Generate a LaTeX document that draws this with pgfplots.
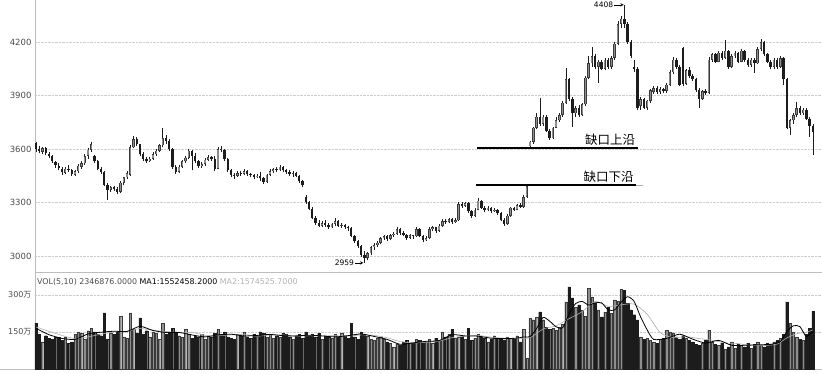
\documentclass[border=0pt]{standalone}
\usepackage{pgfplots}
\pgfplotsset{compat=1.18}
\usepackage{pgfplotstable}
\usepackage{fontspec}
\setmainfont{DejaVu Sans}
\newfontfamily\cjk{Noto Sans CJK SC}

\definecolor{upc}{HTML}{8E8E8E}
\definecolor{upe}{HTML}{3A3A3A}
\definecolor{dnc}{HTML}{1C1C1C}
\definecolor{gridc}{HTML}{CDCDCD}
\definecolor{axc}{HTML}{BDBDBD}
\definecolor{labc}{HTML}{4A4A4A}

\pgfplotstableread{
i o h l c v
0 3634 3640 3580 3600 186
1 3600 3615 3575 3590 140
2 3585 3610 3570 3605 110
3 3605 3610 3565 3575 135
4 3570 3585 3550 3560 125
5 3560 3568 3520 3530 120
6 3525 3535 3495 3510 130
7 3505 3520 3480 3495 128
8 3490 3500 3455 3470 115
9 3465 3500 3460 3490 130
10 3490 3510 3470 3480 105
11 3480 3490 3450 3460 110
12 3455 3480 3450 3475 140
13 3475 3515 3465 3505 150
14 3500 3530 3490 3520 145
15 3520 3570 3510 3560 120
16 3560 3605 3545 3595 155
17 3595 3640 3585 3625 165
18 3560 3565 3520 3535 150
19 3535 3540 3480 3490 140
20 3490 3500 3460 3470 135
21 3470 3475 3390 3400 227
22 3400 3410 3314 3370 120
23 3370 3390 3360 3385 145
24 3385 3390 3365 3375 140
25 3375 3385 3345 3360 150
26 3360 3420 3355 3410 213
27 3410 3445 3400 3440 130
28 3440 3475 3430 3465 125
29 3455 3620 3450 3610 227
30 3610 3670 3605 3655 160
31 3655 3665 3615 3630 145
32 3625 3630 3560 3570 207
33 3570 3580 3530 3545 140
34 3545 3555 3520 3530 155
35 3530 3555 3525 3545 130
36 3545 3580 3540 3570 150
37 3570 3600 3560 3590 145
38 3590 3630 3580 3620 120
39 3620 3718 3610 3660 185
40 3660 3680 3630 3645 140
41 3645 3655 3590 3600 150
42 3600 3605 3490 3500 165
43 3500 3510 3460 3470 150
44 3470 3510 3465 3500 135
45 3500 3540 3495 3530 130
46 3530 3560 3520 3550 160
47 3550 3600 3545 3590 140
48 3590 3595 3480 3560 125
49 3560 3575 3520 3530 135
50 3530 3540 3495 3505 130
51 3505 3525 3495 3515 140
52 3515 3550 3505 3540 120
53 3540 3565 3530 3555 135
54 3555 3560 3530 3545 130
55 3545 3560 3475 3490 145
56 3490 3610 3485 3600 160
57 3600 3615 3580 3595 140
58 3595 3600 3530 3545 150
59 3545 3550 3470 3480 130
60 3480 3490 3440 3455 125
61 3455 3465 3430 3450 120
62 3450 3475 3445 3465 140
63 3465 3475 3450 3460 135
64 3460 3490 3455 3475 150
65 3475 3480 3450 3460 130
66 3460 3465 3440 3455 125
67 3455 3460 3430 3440 140
68 3440 3460 3435 3450 135
69 3450 3470 3420 3435 150
70 3435 3440 3405 3415 145
71 3415 3460 3410 3455 130
72 3455 3485 3450 3475 140
73 3475 3495 3465 3485 125
74 3485 3500 3470 3480 135
75 3480 3510 3475 3500 130
76 3500 3505 3470 3480 145
77 3480 3490 3460 3470 140
78 3470 3480 3450 3460 130
79 3460 3475 3445 3465 120
80 3465 3470 3440 3450 135
81 3450 3455 3410 3420 140
82 3420 3425 3385 3395 125
83 3330 3340 3290 3300 150
84 3300 3310 3255 3265 135
85 3265 3275 3205 3215 140
86 3215 3225 3175 3185 130
87 3185 3200 3160 3170 145
88 3170 3195 3160 3185 120
89 3185 3200 3165 3175 135
90 3175 3185 3150 3160 130
91 3160 3185 3155 3180 125
92 3180 3210 3170 3195 140
93 3195 3200 3165 3170 130
94 3170 3185 3155 3175 145
95 3175 3180 3150 3160 135
96 3160 3170 3140 3155 125
97 3155 3160 3105 3110 186
98 3110 3120 3075 3085 130
99 3085 3090 3045 3055 120
100 3055 3060 2995 3005 150
101 3005 3025 2959 2990 140
102 2990 3020 2975 3015 135
103 3015 3055 3005 3050 120
104 3050 3070 3035 3060 115
105 3060 3085 3050 3075 125
106 3075 3105 3065 3100 130
107 3100 3120 3090 3110 120
108 3110 3120 3085 3095 110
109 3095 3125 3090 3115 105
110 3115 3135 3105 3125 90
111 3125 3160 3120 3150 100
112 3150 3155 3120 3130 95
113 3130 3140 3110 3120 110
114 3120 3125 3090 3100 115
115 3100 3125 3095 3115 105
116 3115 3120 3095 3110 105
117 3110 3162 3105 3150 120
118 3150 3155 3105 3110 115
119 3110 3115 3080 3090 110
120 3090 3110 3085 3100 110
121 3100 3160 3095 3150 120
122 3150 3170 3140 3160 105
123 3160 3165 3130 3140 125
124 3140 3180 3135 3170 115
125 3170 3205 3165 3195 150
126 3195 3205 3180 3190 130
127 3190 3215 3185 3205 140
128 3205 3210 3180 3190 160
129 3190 3210 3185 3200 125
130 3200 3300 3195 3290 130
131 3290 3300 3270 3280 135
132 3280 3305 3275 3295 120
133 3295 3300 3240 3250 165
134 3250 3260 3215 3225 115
135 3225 3270 3220 3260 125
136 3260 3325 3255 3310 140
137 3310 3315 3265 3270 130
138 3270 3280 3245 3255 125
139 3255 3280 3250 3270 110
140 3270 3275 3240 3250 120
141 3250 3270 3245 3260 135
142 3260 3265 3230 3240 125
143 3240 3245 3195 3200 120
144 3200 3210 3170 3180 115
145 3180 3235 3175 3225 130
146 3225 3275 3220 3270 125
147 3270 3275 3250 3260 120
148 3260 3290 3255 3285 135
149 3285 3295 3270 3275 110
150 3275 3340 3270 3330 160
151 3330 3395 3325 3390 45
152 3615 3645 3610 3640 205
153 3640 3725 3630 3720 200
154 3720 3800 3710 3780 210
155 3780 3885 3730 3740 231
156 3740 3790 3730 3780 200
157 3780 3790 3695 3700 170
158 3700 3710 3650 3660 160
159 3660 3725 3655 3720 165
160 3720 3780 3715 3760 158
161 3760 3800 3750 3790 170
162 3790 3870 3780 3860 180
163 3860 4054 3850 3990 272
164 3990 4000 3870 3880 333
165 3880 3890 3725 3800 288
166 3800 3840 3780 3830 251
167 3830 3845 3780 3790 260
168 3790 3860 3785 3850 239
169 3850 4010 3840 4000 215
170 4000 4120 3990 4080 328
171 4080 4172 4060 4120 292
172 4120 4130 4050 4060 267
173 4060 4100 3970 4090 240
174 4090 4100 4040 4050 211
175 4050 4110 4040 4100 230
176 4100 4110 4050 4060 250
177 4060 4120 4050 4110 225
178 4110 4200 4100 4190 280
179 4190 4320 4180 4300 275
180 4300 4345 4280 4330 324
181 4330 4408 4280 4300 320
182 4300 4310 4190 4200 267
183 4200 4210 4110 4120 240
184 4060 4100 4030 4050 220
185 4050 4060 3820 3830 199
186 3840 3890 3820 3880 130
187 3880 3885 3825 3830 120
188 3830 3875 3820 3870 125
189 3870 3935 3860 3930 115
190 3920 3950 3910 3940 110
191 3940 3950 3910 3920 105
192 3920 3945 3910 3935 120
193 3935 3940 3915 3925 125
194 3925 3970 3915 3960 158
195 3960 4040 3950 4030 150
196 4030 4115 4020 4100 146
197 4100 4110 4050 4060 130
198 4060 4070 3950 3960 120
199 4165 4172 3950 3965 135
200 3965 4050 3960 4040 125
201 4040 4060 4000 4010 115
202 4010 4020 3980 3990 110
203 3990 4000 3920 3930 100
204 3930 3940 3830 3880 95
205 3880 3930 3875 3925 105
206 3925 3935 3905 3915 115
207 3915 4115 3910 4100 158
208 4100 4140 4090 4130 110
209 4130 4140 4080 4090 100
210 4090 4150 4085 4140 95
211 4140 4150 4100 4110 105
212 4110 4210 4105 4150 80
213 4150 4155 4050 4060 90
214 4060 4130 4055 4120 110
215 4120 4150 4110 4140 85
216 4140 4145 4080 4090 100
217 4090 4160 4085 4150 95
218 4150 4155 4090 4100 90
219 4100 4110 4060 4070 105
220 4070 4110 4060 4100 85
221 4100 4110 4025 4080 100
222 4080 4170 4075 4160 110
223 4160 4215 4150 4200 95
224 4200 4205 4120 4130 90
225 4130 4140 4080 4090 105
226 4090 4100 4050 4060 100
227 4060 4110 4050 4100 110
228 4100 4110 4050 4060 115
229 4060 4120 4055 4110 125
230 4110 4115 3960 3990 140
231 3990 4000 3710 3720 272
232 3720 3770 3680 3760 186
233 3760 3800 3740 3790 150
234 3790 3865 3780 3830 130
235 3830 3840 3790 3800 120
236 3800 3830 3790 3820 115
237 3820 3830 3760 3770 140
238 3770 3780 3668 3730 165
239 3730 3740 3566 3695 235
}\kdata

\pgfplotstableread{
i m
0 165
4 139
8 124
12 120
16 142
20 149
24 153
28 152
32 173
36 156
40 148
44 148
48 138
52 130
56 138
60 141
64 134
68 136
72 140
76 135
80 134
84 137
88 134
92 130
96 135
100 142
104 132
108 120
112 100
116 106
120 112
124 115
128 139
132 134
136 133
140 125
144 123
148 125
150 130
152 131
154 164
156 209
158 194
160 171
162 167
164 223
166 265
168 274
170 259
172 268
174 268
176 240
178 239
180 271
182 293
184 274
186 211
188 159
190 120
194 124
198 141
202 121
206 105
210 116
214 96
218 96
222 98
226 100
229 111
231 152
233 175
235 172
237 131
239 155
}\mafive

\pgfplotstableread{
i m
0 170
9 132
12 124
16 130
20 141
24 150
28 153
32 164
36 157
40 152
44 147
48 148
52 137
56 136
60 138
64 140
68 133
72 138
76 138
80 133
84 135
88 134
92 135
96 133
100 138
104 136
108 127
112 111
116 106
120 108
124 113
128 127
132 133
136 136
140 129
144 125
148 124
152 127
156 162
160 175
164 204
168 232
172 274
176 254
180 260
184 263
188 222
192 148
196 127
200 131
204 123
208 117
212 106
216 103
220 95
224 95
228 101
231 126
234 143
237 149
239 158
}\maten

\begin{document}
\begin{tikzpicture}
\useasboundingbox (-35pt,0pt) rectangle (787pt,374pt);
% ---------- price pane ----------
\begin{axis}[
  at={(0pt,102pt)}, anchor=south west,
  width=787pt, height=272pt, scale only axis,
  xmin=-0.3, xmax=241.8, ymin=2910, ymax=4435,
  axis lines*=left, axis line style={-, draw=axc, line width=0.6pt},
  xtick=\empty,
  ytick={3000,3300,3600,3900,4200},
  ymajorgrids, grid style={densely dotted, gridc, line width=0.5pt},
  major tick length=0pt,
  yticklabel style={font=\fontsize{8.5}{10}\selectfont, text=labc},
  /pgf/number format/assume math mode=true,
  /pgf/number format/set thousands separator={},
  clip=false,
]
% wicks
\addplot[quiver={u=0, v={\thisrow{h}-\thisrow{l}}}, draw=dnc, line width=0.55pt, forget plot]
  table[x=i, y=l] {\kdata};
% rising bodies: dark edge, grey inside
\addplot[quiver={u=0, v={max(\thisrow{c}-\thisrow{o},5)}}, draw=upe, line width=2.4pt, forget plot, unbounded coords=discard]
  table[x=i, y expr={\thisrow{c}>=\thisrow{o} ? \thisrow{o} : nan}] {\kdata};
\addplot[quiver={u=0, v={max(\thisrow{c}-\thisrow{o}-7,0)}}, draw=upc, line width=1.2pt, forget plot, unbounded coords=discard]
  table[x=i, y expr={\thisrow{c}>=\thisrow{o} ? \thisrow{o}+3.5 : nan}] {\kdata};
% falling bodies
\addplot[quiver={u=0, v={max(\thisrow{o}-\thisrow{c},5)}}, draw=dnc, line width=2.4pt, forget plot, unbounded coords=discard]
  table[x=i, y expr={\thisrow{c}<\thisrow{o} ? \thisrow{c} : nan}] {\kdata};
% gap lines
\draw[line width=1.8pt, black] (axis cs:135.7,3603) -- (axis cs:185.3,3603);
\draw[line width=1.8pt, black] (axis cs:135.3,3398) -- (axis cs:184.6,3398);
\draw[line width=0.6pt, gray!60] (axis cs:184.6,3398) -- (axis cs:186.8,3398);
\node[anchor=south east, inner sep=1pt, font=\cjk\fontsize{12.5}{12.5}\selectfont]
  at (axis cs:184.7,3612) {缺口上沿};
\node[anchor=south east, inner sep=1pt, font=\cjk\fontsize{12.5}{12.5}\selectfont]
  at (axis cs:184.2,3407) {缺口下沿};
% extreme labels
\draw[->, >=stealth, line width=0.5pt] (axis cs:177.9,4408) -- (axis cs:180.8,4408);
\node[anchor=east, inner sep=1pt, font=\fontsize{7.5}{8}\selectfont] at (axis cs:177.9,4408) {4408};
\draw[->, >=stealth, line width=0.5pt] (axis cs:98.2,2961) -- (axis cs:100.7,2961);
\node[anchor=east, inner sep=1pt, font=\fontsize{7.5}{8}\selectfont] at (axis cs:98.2,2961) {2959};
\end{axis}
% ---------- volume pane ----------
\begin{axis}[
  at={(0pt,5pt)}, anchor=south west,
  width=787pt, height=96pt, scale only axis,
  xmin=-0.3, xmax=241.8, ymin=0, ymax=389,
  axis lines*=left, axis line style={-, draw=axc, line width=0.6pt},
  xtick=\empty,
  ytick={150,300},
  yticklabels={150{\cjk 万},300{\cjk 万}},
  ymajorgrids, grid style={densely dotted, gridc, line width=0.5pt},
  major tick length=0pt,
  yticklabel style={font=\fontsize{8}{10}\selectfont, text=labc},
  clip=false,
]
\addplot[ybar, bar width=2.3pt, bar shift=0pt, fill=upc, draw=upe, line width=0.25pt, unbounded coords=discard, forget plot]
  table[x=i, y expr={\thisrow{c}>=\thisrow{o} ? \thisrow{v} : nan}] {\kdata};
\addplot[ybar, bar width=2.3pt, bar shift=0pt, fill=dnc, draw=dnc, line width=0.25pt, unbounded coords=discard, forget plot]
  table[x=i, y expr={\thisrow{c}<\thisrow{o} ? \thisrow{v} : nan}] {\kdata};
\addplot[gray!65, line width=0.6pt, smooth, tension=0.4, mark=none] table[x=i, y=m] {\maten};
\addplot[black, line width=0.8pt, smooth, tension=0.4, mark=none] table[x=i, y=m] {\mafive};
\node[anchor=west, inner sep=0pt, font=\fontsize{7.9}{9}\selectfont] at (rel axis cs:0,1) [xshift=2pt, yshift=-9pt]
  {\textcolor{labc}{VOL(5,10) 2346876.0000} \textcolor{black}{MA1:1552458.2000} \textcolor{gray!60}{MA2:1574525.7000}};
\end{axis}
\draw[axc, line width=0.6pt] (-35pt,5pt) -- (0pt,5pt);
\end{tikzpicture}
\end{document}
